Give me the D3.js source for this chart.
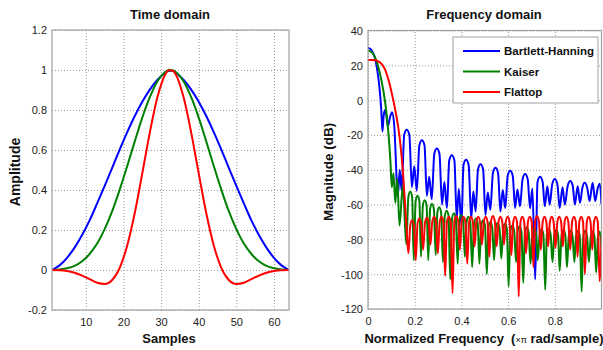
<!DOCTYPE html>
<html>
<head>
<meta charset="utf-8">
<script src="https://cdn.jsdelivr.net/npm/d3@7"></script>
<style>
  body { margin: 0; background: #fff; }
  text { font-family: "Liberation Sans", Arial, sans-serif; }
  .tick text { font-size: 11px; fill: #222; }
  .lbl { font-size: 13px; font-weight: bold; fill: #111; white-space: pre; }
  .grid line { stroke: #9a9a9a; stroke-dasharray: 1,2; }
  .grid path { display: none; }
</style>
</head>
<body>
<svg id="chart" width="603" height="350"></svg>
<script>
// ---- time domain (samples 1..64) ----
var samples = [1, 3, 5, 7, 9, 11, 13, 15, 17, 19, 21, 23, 25, 27, 29, 31, 32,
               33, 34, 36, 38, 40, 42, 44, 46, 48, 50, 52, 54, 56, 58, 60, 62, 64];
var bhTime = [0, 0.023, 0.061, 0.112, 0.175, 0.248, 0.333, 0.421, 0.511, 0.602, 0.689, 0.770, 0.841, 0.902, 0.950, 0.984, 0.996,
              0.996, 0.984, 0.950, 0.902, 0.841, 0.770, 0.689, 0.602, 0.511, 0.421, 0.333, 0.248, 0.175, 0.112, 0.061, 0.023, 0];
var kaiserTime = [0, 0.003, 0.009, 0.021, 0.044, 0.080, 0.132, 0.204, 0.294, 0.402, 0.520, 0.643, 0.762, 0.864, 0.943, 0.989, 0.999,
                  0.999, 0.989, 0.943, 0.864, 0.762, 0.643, 0.520, 0.402, 0.294, 0.204, 0.132, 0.080, 0.044, 0.021, 0.009, 0.003, 0];
var flattopTime = [0, -0.001, -0.005, -0.014, -0.028, -0.046, -0.064, -0.070, -0.050, 0.011, 0.123, 0.285, 0.483, 0.687, 0.862, 0.974, 0.997,
                   0.997, 0.974, 0.862, 0.687, 0.483, 0.285, 0.123, 0.011, -0.050, -0.070, -0.064, -0.046, -0.028, -0.014, -0.005, -0.001, 0];

// ---- frequency domain: [normalized freq (x pi rad/sample), magnitude dB] ----
// main lobe, then for each sidelobe: shoulder, peak, shoulder, null
var bhSpec = [
  [0, 30], [0.01, 29.5], [0.02, 27.5], [0.03, 24], [0.04, 17], [0.05, 6], [0.057, -6], [0.062, -18],
  [0.067, -9], [0.073, -5.7], [0.079, -9], [0.085, -15],
  [0.094, -10], [0.103, -7], [0.112, -14], [0.128, -55],
  [0.136, -40], [0.144, -52],
  [0.155, -20], [0.166, -17], [0.177, -20], [0.188, -50],
  [0.198, -38], [0.209, -52],
  [0.22, -26], [0.231, -23], [0.242, -26], [0.252, -55],
  [0.262, -44], [0.273, -57],
  [0.284, -30.8], [0.295, -27.8], [0.306, -30.8], [0.317, -60],
  [0.327, -47], [0.338, -62],
  [0.348, -34.6], [0.359, -31.6], [0.37, -34.6], [0.38, -68],
  [0.389, -51], [0.40, -72],
  [0.409, -37.3], [0.42, -34.3], [0.431, -37.3], [0.442, -68],
  [0.451, -52.5], [0.461, -64],
  [0.471, -39.8], [0.482, -36.8], [0.493, -39.8], [0.503, -66],
  [0.513, -53], [0.524, -63],
  [0.535, -41.9], [0.546, -38.9], [0.557, -41.9], [0.567, -64],
  [0.577, -51.7], [0.588, -62],
  [0.598, -43.6], [0.609, -40.6], [0.62, -43.6], [0.63, -62],
  [0.64, -51.3], [0.651, -61],
  [0.662, -45.5], [0.673, -42.5], [0.684, -45.5], [0.694, -62],
  [0.704, -50.8], [0.716, -103],
  [0.726, -47], [0.737, -44], [0.748, -47], [0.757, -61],
  [0.768, -49.5], [0.778, -60],
  [0.789, -48.3], [0.8, -45.3], [0.811, -48.3], [0.821, -62],
  [0.833, -50], [0.843, -60],
  [0.855, -49.4], [0.866, -46.4], [0.877, -49.4], [0.886, -60],
  [0.898, -49.5], [0.908, -59],
  [0.918, -50.5], [0.928, -47.5], [0.939, -50.5], [0.949, -58],
  [0.962, -47.5], [0.973, -58],
  [0.983, -51], [0.993, -48], [1.0, -60]
];

var kaiserSpec = [
  [0, 28.5], [0.02, 27], [0.035, 23], [0.05, 16], [0.065, 6], [0.078, -6], [0.088, -20], [0.096, -35], [0.102, -50],
  [0.109, -42], [0.117, -59], [0.125, -45], [0.135, -72], [0.149, -49], [0.164, -83],
  [0.173, -55.5], [0.181, -52.5], [0.189, -55.5], [0.196, -92],
  [0.204, -58], [0.212, -55], [0.220, -58], [0.227, -90],
  [0.235, -60.5], [0.243, -57.5], [0.251, -60.5], [0.258, -92],
  [0.266, -62.5], [0.274, -59.5], [0.282, -62.5], [0.29, -89],
  [0.297, -64.5], [0.305, -61.5], [0.313, -64.5], [0.321, -93],
  [0.329, -66.5], [0.337, -63.5], [0.345, -66.5], [0.352, -103],
  [0.360, -68], [0.368, -65], [0.376, -68], [0.384, -94],
  [0.391, -69], [0.399, -66], [0.407, -69], [0.415, -90],
  [0.422, -70], [0.43, -67], [0.438, -70], [0.446, -96],
  [0.454, -71], [0.462, -68], [0.470, -71], [0.477, -94],
  [0.485, -72], [0.493, -69], [0.501, -72], [0.509, -100],
  [0.516, -73], [0.524, -70], [0.532, -73], [0.54, -92],
  [0.547, -73.5], [0.555, -70.5], [0.563, -73.5], [0.571, -91],
  [0.579, -74], [0.587, -71], [0.595, -74], [0.602, -107],
  [0.610, -75], [0.618, -72], [0.626, -75], [0.634, -93],
  [0.641, -75.5], [0.649, -72.5], [0.657, -75.5], [0.665, -105],
  [0.672, -76], [0.68, -73], [0.688, -76], [0.696, -94],
  [0.704, -76.5], [0.712, -73.5], [0.720, -76.5], [0.727, -92],
  [0.735, -77], [0.743, -74], [0.751, -77], [0.759, -109],
  [0.766, -77], [0.774, -74], [0.782, -77], [0.79, -93],
  [0.798, -77.5], [0.806, -74.5], [0.814, -77.5], [0.821, -98],
  [0.829, -77.5], [0.837, -74.5], [0.845, -77.5], [0.852, -96],
  [0.860, -78], [0.868, -75], [0.876, -78], [0.884, -93],
  [0.891, -78], [0.899, -75], [0.907, -78], [0.915, -110],
  [0.922, -78], [0.93, -75], [0.938, -78], [0.946, -93],
  [0.954, -78.5], [0.962, -75.5], [0.970, -78.5], [0.977, -99],
  [0.985, -78.5], [0.993, -75.5], [1.0, -85]
];

var flattopSpec = [
  [0, 23], [0.02, 23], [0.04, 22.5], [0.06, 20.5], [0.075, 17], [0.09, 10.5], [0.105, 2], [0.12, -8],
  [0.13, -16], [0.14, -27], [0.15, -42], [0.158, -58], [0.165, -73], [0.173, -88],
  [0.181, -72], [0.189, -69], [0.197, -72], [0.2045, -92],
  [0.212, -71], [0.220, -68], [0.228, -71], [0.236, -86],
  [0.244, -70.5], [0.252, -67.5], [0.260, -70.5], [0.2675, -83],
  [0.275, -70], [0.283, -67], [0.291, -70], [0.299, -88],
  [0.307, -70], [0.315, -67], [0.323, -70], [0.3305, -101],
  [0.338, -70], [0.346, -67], [0.354, -70], [0.362, -111],
  [0.370, -69.5], [0.378, -66.5], [0.386, -69.5], [0.3935, -86],
  [0.401, -70], [0.409, -67], [0.417, -70], [0.425, -94],
  [0.433, -70], [0.441, -67], [0.449, -70], [0.4565, -84],
  [0.464, -70], [0.472, -67], [0.480, -70], [0.488, -83],
  [0.496, -70], [0.504, -67], [0.512, -70], [0.5195, -90],
  [0.527, -69.5], [0.535, -66.5], [0.543, -69.5], [0.551, -84],
  [0.559, -70], [0.567, -67], [0.575, -70], [0.5825, -83],
  [0.590, -70], [0.598, -67], [0.606, -70], [0.614, -89],
  [0.622, -70], [0.630, -67], [0.638, -70], [0.6455, -113],
  [0.653, -70], [0.661, -67], [0.669, -70], [0.677, -88],
  [0.685, -70], [0.693, -67], [0.701, -70], [0.7085, -96],
  [0.716, -69.5], [0.724, -66.5], [0.732, -69.5], [0.74, -86],
  [0.748, -70], [0.756, -67], [0.764, -70], [0.7715, -84],
  [0.779, -70], [0.787, -67], [0.795, -70], [0.803, -85],
  [0.811, -70], [0.819, -67], [0.827, -70], [0.8345, -84],
  [0.842, -70], [0.850, -67], [0.858, -70], [0.866, -86],
  [0.874, -70], [0.882, -67], [0.890, -70], [0.8975, -90],
  [0.905, -70], [0.913, -67], [0.921, -70], [0.929, -100],
  [0.937, -70], [0.945, -67], [0.953, -70], [0.9605, -86],
  [0.968, -70], [0.976, -67], [0.984, -70], [0.992, -104],
  [1.0, -78]
];

var seriesNames = ["Bartlett-Hanning", "Kaiser", "Flattop"];
var seriesColors = ["#0000ff", "#008000", "#ff0000"];

var timeXTicks = [10, 20, 30, 40, 50, 60];
var timeYTicks = [-0.2, 0, 0.2, 0.4, 0.6, 0.8, 1, 1.2];
var timeYLabels = ["-0.2", "0", "0.2", "0.4", "0.6", "0.8", "1", "1.2"];
var freqXTicks = [0, 0.2, 0.4, 0.6, 0.8];
var freqXLabels = ["0", "0.2", "0.4", "0.6", "0.8"];
var freqYTicks = [-120, -100, -80, -60, -40, -20, 0, 20, 40];

var svg = d3.select("#chart");

function zip(xs, ys) {
  return xs.map(function (d, i) { return [d, ys[i]]; });
}

// draws background, dotted grid and tick labels for one panel
function panel(id, x, y, xTicks, xLabels, yTicks, yLabels) {
  var x0 = x.range()[0], x1 = x.range()[1];
  var y0 = y.range()[0], y1 = y.range()[1];
  var g = svg.append("g");

  g.append("rect")
    .attr("x", x0).attr("y", y1)
    .attr("width", x1 - x0).attr("height", y0 - y1)
    .style("fill", "#fff");

  g.append("g")
    .attr("class", "grid")
    .attr("transform", "translate(0," + y0 + ")")
    .call(d3.axisBottom(x).tickValues(xTicks).tickSize(-(y0 - y1)).tickFormat(""));

  g.append("g")
    .attr("class", "grid")
    .attr("transform", "translate(" + x0 + ",0)")
    .call(d3.axisLeft(y).tickValues(yTicks).tickSize(-(x1 - x0)).tickFormat(""));

  var xa = g.append("g")
    .attr("transform", "translate(0," + y0 + ")")
    .call(d3.axisBottom(x).tickValues(xTicks).tickSize(0).tickPadding(8)
      .tickFormat(function (d, i) { return xLabels[i]; }));
  xa.select(".domain").remove();

  var ya = g.append("g")
    .attr("transform", "translate(" + x0 + ",0)")
    .call(d3.axisLeft(y).tickValues(yTicks).tickSize(0).tickPadding(5)
      .tickFormat(function (d, i) { return yLabels[i]; }));
  ya.select(".domain").remove();
  ya.selectAll("text").attr("dy", "0.36em");

  svg.append("clipPath").attr("id", id)
    .append("rect")
    .attr("x", x0).attr("y", y1)
    .attr("width", x1 - x0).attr("height", y0 - y1);

  return g;
}

function box(g, x, y) {
  g.append("rect")
    .attr("x", x.range()[0]).attr("y", y.range()[1])
    .attr("width", x.range()[1] - x.range()[0])
    .attr("height", y.range()[0] - y.range()[1])
    .style("fill", "none")
    .style("stroke", "#a0a0a0")
    .style("stroke-width", 1.2);
}

// ---------- left: time domain ----------
var xt = d3.scaleLinear().domain([1, 64]).range([52, 289]);
var yt = d3.scaleLinear().domain([-0.2, 1.2]).range([310, 30]);
var gt = panel("clipT", xt, yt, timeXTicks, timeXTicks.map(String), timeYTicks, timeYLabels);

var timeLine = d3.line()
  .x(function (d) { return xt(d[0]); })
  .y(function (d) { return yt(d[1]); })
  .curve(d3.curveMonotoneX);

[bhTime, kaiserTime, flattopTime].forEach(function (vals, i) {
  gt.append("path")
    .datum(zip(samples, vals))
    .attr("clip-path", "url(#clipT)")
    .attr("d", timeLine)
    .style("fill", "none")
    .style("stroke", seriesColors[i])
    .style("stroke-width", 2);
});
box(gt, xt, yt);

svg.append("text").attr("class", "lbl")
  .attr("x", 170).attr("y", 19).attr("text-anchor", "middle")
  .text("Time domain");
svg.append("text").attr("class", "lbl")
  .attr("x", 169).attr("y", 343).attr("text-anchor", "middle")
  .text("Samples");
svg.append("text").attr("class", "lbl")
  .attr("transform", "translate(20,172) rotate(-90)")
  .attr("text-anchor", "middle")
  .style("font-size", "14px")
  .text("Amplitude");

// ---------- right: frequency domain ----------
var xf = d3.scaleLinear().domain([0, 1]).range([368, 601.5]);
var yf = d3.scaleLinear().domain([-120, 40]).range([309, 30.5]);
var gf = panel("clipF", xf, yf, freqXTicks, freqXLabels, freqYTicks, freqYTicks.map(String));

var freqLine = d3.line()
  .x(function (d) { return xf(d[0]); })
  .y(function (d) { return yf(d[1]); })
  .curve(d3.curveMonotoneX);

[bhSpec, kaiserSpec, flattopSpec].forEach(function (s, i) {
  gf.append("path")
    .datum(s)
    .attr("clip-path", "url(#clipF)")
    .attr("d", freqLine)
    .style("fill", "none")
    .style("stroke", seriesColors[i])
    .style("stroke-width", 2)
    .style("stroke-linejoin", "round");
});
box(gf, xf, yf);

svg.append("text").attr("class", "lbl")
  .attr("x", 484).attr("y", 19).attr("text-anchor", "middle")
  .text("Frequency domain");
var xl = svg.append("text").attr("class", "lbl")
  .attr("x", 484).attr("y", 343).attr("text-anchor", "middle");
xl.append("tspan").text("Normalized Frequency  (");
xl.append("tspan").style("font-size", "9px").style("font-weight", "normal").text("\u00d7\u03c0");
xl.append("tspan").text(" rad/sample)");
svg.append("text").attr("class", "lbl")
  .attr("transform", "translate(333,172) rotate(-90)")
  .attr("text-anchor", "middle")
  .style("font-size", "13.5px")
  .text("Magnitude (dB)");

// legend
var lg = svg.append("g");
lg.append("rect")
  .attr("x", 453).attr("y", 37).attr("width", 145).attr("height", 66)
  .style("fill", "#fff").style("stroke", "#a0a0a0");
seriesNames.forEach(function (name, i) {
  var ly = 51 + i * 20.5;
  lg.append("line")
    .attr("x1", 463).attr("x2", 500).attr("y1", ly).attr("y2", ly)
    .style("stroke", seriesColors[i]).style("stroke-width", 2);
  lg.append("text").attr("class", "lbl")
    .attr("x", 504).attr("y", ly + 4)
    .style("font-size", "11.5px")
    .text(name);
});
</script>
</body>
</html>
